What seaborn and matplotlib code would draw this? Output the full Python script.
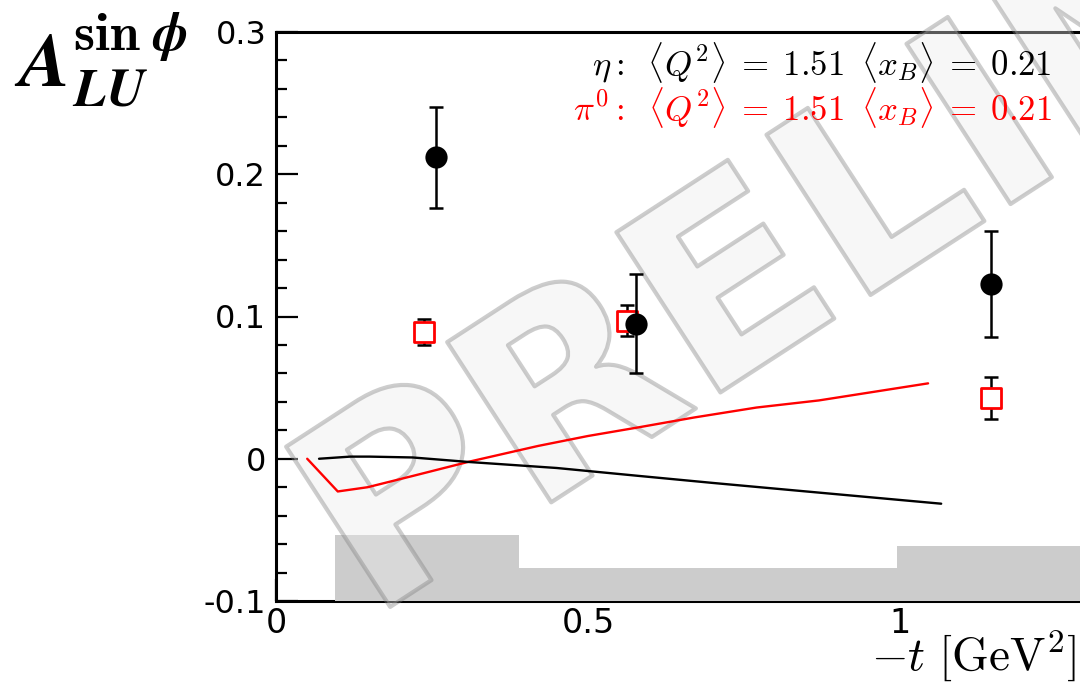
import numpy as np
import pandas as pd
import matplotlib
matplotlib.use("Agg")
import matplotlib.pyplot as plt
import seaborn as sns
from matplotlib.textpath import TextPath
from matplotlib.patches import PathPatch
from matplotlib.font_manager import FontProperties
from matplotlib.transforms import Affine2D
from matplotlib.ticker import MultipleLocator, FixedLocator

# ---------------- data ----------------
eta_t = [0.256, 0.577, 1.146]
eta_a = [0.212, 0.095, 0.123]
eta_err = [0.0355, 0.0348, 0.0373]

pi0_t = [0.237, 0.5625, 1.146]
pi0_a = [0.089, 0.097, 0.043]
pi0_err = [0.009, 0.011, 0.0148]

eta_model_t = [0.069, 0.119, 0.15, 0.219, 0.31, 0.40, 0.45, 0.58, 0.70, 0.85, 1.066]
eta_model_a = [0.0, 0.0015, 0.0015, 0.0009, -0.0023, -0.005, -0.0065, -0.012, -0.017, -0.023, -0.0316]

pi0_model_t = [0.050, 0.099, 0.147, 0.22, 0.31, 0.42, 0.50, 0.58, 0.67, 0.77, 0.87, 1.045]
pi0_model_a = [0.0, -0.023, -0.020, -0.012, -0.002, 0.009, 0.016, 0.022, 0.029, 0.036, 0.041, 0.053]

sys_edges = [0.095, 0.39, 0.995, 1.6]
sys_top = [-0.0533, -0.0765, -0.061]

x_ticks = [0, 0.5, 1]
x_tick_labels = ["0", "0.5", "1"]
y_ticks = [-0.1, 0.0, 0.1, 0.2, 0.3]
y_tick_labels = ["-0.1", "0", "0.1", "0.2", "0.3"]

eta_label = r"$\eta{:}\;\;\langle Q^{2}\rangle\;=\;1.51\;\;\langle x_{B}\rangle\;=\;0.21$"
pi0_label = r"$\pi^{0}{:}\;\;\langle Q^{2}\rangle\;=\;1.51\;\;\langle x_{B}\rangle\;=\;0.21$"
x_title = r"$-t\ [\mathrm{GeV}^{2}]$"
y_title = r"$\mathbfit{A}^{\mathbf{sin}\;\mathbfit{\phi}}_{\mathbfit{LU}}$"
watermark = "PRELIMINARY"

# ---------------- style ----------------
sns.set_theme(style="ticks")
plt.rcParams["font.family"] = ["DejaVu Sans"]
plt.rcParams["mathtext.fontset"] = "cm"
plt.rcParams["text.color"] = "black"
plt.rcParams["xtick.color"] = "black"
plt.rcParams["ytick.color"] = "black"
plt.rcParams["xtick.labelcolor"] = "black"
plt.rcParams["ytick.labelcolor"] = "black"

W, H = 1080, 682
fig = plt.figure(figsize=(W / 100, H / 100), dpi=100)
x0_px, y_top_px, y_bot_px = 276, 32, 601
xmax = 1.5
px_per_unit = 624
ax = fig.add_axes([x0_px / W, 1 - y_bot_px / H, xmax * px_per_unit / W,
                   (y_bot_px - y_top_px) / H])
ax.set_xlim(0, xmax)
ax.set_ylim(-0.1, 0.3)
ax.set_facecolor("white")

# systematic band
band_y = sys_top + [sys_top[-1]]
ax.fill_between(sys_edges, -0.1, band_y, step="post", color="#cccccc",
                lw=0, zorder=2.6)

# watermark
fp = FontProperties(family="DejaVu Sans", weight="bold")
tp = TextPath((0, 0), watermark, size=262, prop=fp)
tr = Affine2D().rotate_deg(33).translate(370, H - 620)
patch = PathPatch(tp, transform=tr, facecolor="#ececec", edgecolor="#7c7c7c",
                  lw=3.0, joinstyle="round", alpha=0.38, zorder=2.7, clip_on=False)
ax.add_artist(patch)

# model curves
sns.lineplot(x=pi0_model_t, y=pi0_model_a, ax=ax, color="red", lw=1.7,
             sort=False, zorder=3)
sns.lineplot(x=eta_model_t, y=eta_model_a, ax=ax, color="black", lw=1.7,
             sort=False, zorder=3)

# data points
ax.errorbar(pi0_t, pi0_a, yerr=pi0_err, fmt="none", ecolor="black",
            elinewidth=1.8, capsize=5, capthick=1.8, zorder=4)
sns.scatterplot(x=pi0_t, y=pi0_a, ax=ax, marker="s", s=15 ** 2,
                facecolor="white", edgecolor="red", linewidth=2.0, zorder=5)
ax.errorbar(eta_t, eta_a, yerr=eta_err, fmt="none", ecolor="black",
            elinewidth=1.8, capsize=5, capthick=1.8, zorder=6)
sns.scatterplot(x=eta_t, y=eta_a, ax=ax, marker="o", s=16 ** 2,
                color="black", edgecolor="black", linewidth=0, zorder=7)

# ticks and spines
ax.xaxis.set_major_locator(FixedLocator(x_ticks))
ax.set_xticklabels(x_tick_labels)
ax.xaxis.set_minor_locator(MultipleLocator(0.1))
ax.yaxis.set_major_locator(FixedLocator(y_ticks))
ax.set_yticklabels(y_tick_labels)
ax.yaxis.set_minor_locator(MultipleLocator(0.02))
ax.tick_params(axis="both", which="both", direction="in", top=False,
               right=False, width=1.6, color="black", labelcolor="black")
ax.tick_params(axis="both", which="major", length=16)
ax.tick_params(axis="both", which="minor", length=8)
ax.tick_params(axis="y", labelsize=23, pad=7)
ax.tick_params(axis="x", labelsize=24, pad=4)
for sp in ax.spines.values():
    sp.set_linewidth(2.2)
    sp.set_color("black")
    sp.set_visible(True)

# texts
ax.text(1052 / W, 1 - 75 / H, eta_label, transform=fig.transFigure,
        ha="right", va="baseline", fontsize=25, color="black", zorder=8)
ax.text(1052 / W, 1 - 120 / H, pi0_label, transform=fig.transFigure,
        ha="right", va="baseline", fontsize=25, color="red", zorder=8)
fig.text(871 / W, 1 - 670 / H, x_title, ha="left", va="baseline", fontsize=34,
         color="black")
fig.text(14 / W, 1 - 10 / H, y_title, ha="left", va="top", fontsize=55,
         color="black")

fig.savefig("out.png", dpi=100)
